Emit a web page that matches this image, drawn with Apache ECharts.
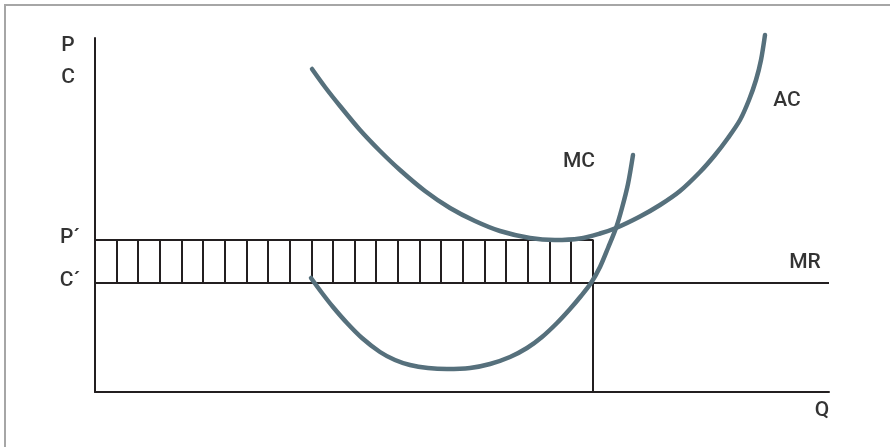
<!DOCTYPE html>
<html>
<head>
<meta charset="utf-8">
<script src="https://cdn.jsdelivr.net/npm/echarts@6/dist/echarts.min.js"></script>
<style>
  html, body { margin: 0; padding: 0; background: #fff; }
  #wrap { position: relative; width: 890px; height: 447px; overflow: hidden; }
  #frame { position: absolute; left: 4px; top: 4px; width: 900px; height: 460px;
           border-top: 2px solid #a6a6a6; border-left: 2px solid #a6a6a6; box-sizing: border-box; }
  #chart { position: absolute; left: 0; top: 0; width: 890px; height: 447px; }
</style>
</head>
<body>
<div id="wrap"><div id="frame"></div><div id="chart"></div></div>
<script>
// Quantity (x) and price/cost (y) in chart units
const qStar = 498;          // profit-maximising quantity
const pPrime = 152;         // price P´
const cPrime = 109;         // cost C´ (= MR level)
const qMax = 734;
const yMax = 354;

// hatch positions inside the profit rectangle
const hatchX = [22, 43, 65, 87, 108, 130, 152, 173, 195, 217, 238, 260, 281, 303, 325, 346, 368, 390, 411, 433, 455, 476];

// Average cost curve
const acCurve = [
  [217, 323], [230, 305], [245, 286], [265, 262], [285, 241], [305, 222], [330, 201],
  [355, 184], [380, 171], [405, 161], [435, 154], [460, 152], [485, 153.5], [505, 158.5],
  [521, 164], [545, 175.5], [565, 187], [585, 201], [605, 220], [620, 237], [633, 254],
  [645, 272], [654, 292], [661, 312], [666, 332], [670, 357]
];

// Marginal cost curve
const mcCurve = [
  [216, 114], [227, 99], [238, 85], [252, 69], [267, 54], [285, 40], [300, 32],
  [315, 27], [333, 24], [352, 23], [375, 24], [395, 28], [415, 35], [432, 44],
  [447, 55], [462, 69], [475, 83], [486, 96], [496, 109], [505, 125], [513, 144],
  [521, 164], [527, 184], [533, 208], [538, 237]
];

// Text labels: [x, y, text]
const labels = [
  [-27, 346, 'P'], [-27, 314, 'C'],
  [-25, 154, 'P´'], [-25, 111, 'C´'],
  [727, -19, 'Q'], [710, 129, 'MR'],
  [692, 291, 'AC'], [484, 230, 'MC']
];

const dark = '#231f20';
const curveColor = '#56707c';

const chart = echarts.init(document.getElementById('chart'));
chart.setOption({
  animation: false,
  backgroundColor: 'transparent',
  grid: { left: 95, right: 61, top: 38, bottom: 55 },
  xAxis: {
    type: 'value', min: 0, max: qMax,
    axisLine: { show: true, onZero: false, lineStyle: { color: dark, width: 2 } },
    axisTick: { show: false }, axisLabel: { show: false }, splitLine: { show: false }
  },
  yAxis: {
    type: 'value', min: 0, max: yMax,
    axisLine: { show: true, onZero: false, lineStyle: { color: dark, width: 2 } },
    axisTick: { show: false }, axisLabel: { show: false }, splitLine: { show: false }
  },
  series: [
    {
      type: 'custom',
      clip: false,
      data: hatchX.map(x => [x]),
      renderItem: function (params, api) {
        const a = api.coord([api.value(0), cPrime]);
        const b = api.coord([api.value(0), pPrime]);
        return { type: 'line', shape: { x1: a[0], y1: a[1], x2: b[0], y2: b[1] },
                 style: { stroke: dark, lineWidth: 2 } };
      }
    },
    {
      type: 'line', clip: false, symbol: 'none', silent: true,
      lineStyle: { color: dark, width: 2 },
      data: [[0, pPrime], [qStar, pPrime], [qStar, 0]]
    },
    {
      type: 'line', clip: false, symbol: 'none', silent: true,
      lineStyle: { color: dark, width: 2 },
      data: [[0, cPrime], [qMax, cPrime]]
    },
    {
      type: 'line', clip: false, symbol: 'none', smooth: 0.3, silent: true,
      lineStyle: { color: curveColor, width: 4.5, cap: 'round' },
      data: acCurve
    },
    {
      type: 'line', clip: false, symbol: 'none', smooth: 0.3, silent: true,
      lineStyle: { color: curveColor, width: 4.5, cap: 'round' },
      data: mcCurve
    },
    {
      type: 'scatter', clip: false, symbolSize: 0, silent: true,
      data: labels.map(l => ({ value: [l[0], l[1]], name: l[2] })),
      label: {
        show: true, position: 'inside', formatter: p => p.name,
        color: '#000', fontSize: 21, fontWeight: 500, fontFamily: 'Roboto'
      }
    }
  ]
});
</script>
</body>
</html>
